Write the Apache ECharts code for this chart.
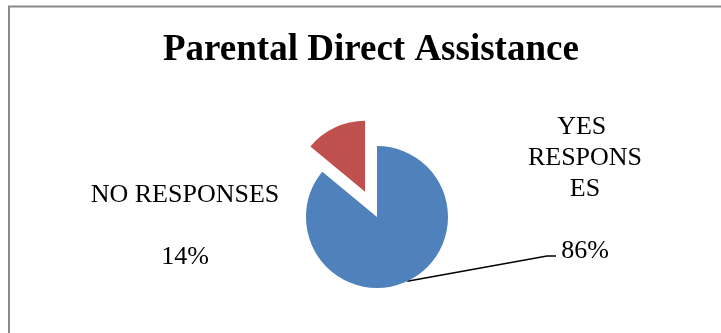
<!DOCTYPE html>
<html>
<head>
<meta charset="utf-8">
<script src="https://cdn.jsdelivr.net/npm/echarts@6/dist/echarts.min.js"></script>
<style>
  html, body { margin: 0; padding: 0; background: #fff; }
  #chart { width: 721px; height: 333px; }
</style>
</head>
<body>
<div id="chart"></div>
<script>
// Survey answers: share of parents giving direct assistance
const chartTitle = 'Parental Direct Assistance';
const categories = ['YES RESPONSES', 'NO RESPONSES'];
const values = [86, 14];
const sliceColors = ['#4F81BD', '#C0504D'];

// Where each label block is centred, how wide it may grow before wrapping,
// and whether it gets a leader line back to its slice.
const labelPlacement = [
  { x: 585, y: 189, width: 120, leader: true },
  { x: 185, y: 226, width: 230, leader: false }
];

const serif = "'Liberation Serif', 'Times New Roman', serif";
const pieCenter = [377, 217];
const pieRadius = 71;
const startAngle = 90;
const explodeDistance = 28;   // how far the exploded slice is pulled out
const explodedIndex = 1;

// centre of the exploded slice: shifted outwards along its mid-angle
const total = values.reduce(function (a, b) { return a + b; }, 0);
let before = 0;
for (let i = 0; i < explodedIndex; i++) before += values[i];
const midFraction = (before + values[explodedIndex] / 2) / total;
const midAngle = (startAngle - 360 * midFraction) * Math.PI / 180;
const explodedCenter = [
  pieCenter[0] + explodeDistance * Math.cos(midAngle),
  pieCenter[1] - explodeDistance * Math.sin(midAngle)
];

function layoutLabel(p) {
  const place = labelPlacement[p.dataIndex];
  const out = { x: place.x, y: place.y, align: 'center', verticalAlign: 'middle' };
  if (place.leader && p.labelLinePoints) {
    out.labelLinePoints = [
      p.labelLinePoints[0],
      [place.x - 38, place.y + 67],
      [place.x - 29, place.y + 67]
    ];
  }
  return out;
}

// one ring per slice; the other slices in that ring are left invisible
function sliceSeries(visibleIndex, center) {
  return {
    type: 'pie',
    center: center,
    radius: pieRadius,
    startAngle: startAngle,
    clockwise: true,
    silent: true,
    emphasis: { disabled: true },
    label: {
      show: true,
      position: 'outside',
      fontFamily: serif,
      fontSize: 26,
      lineHeight: 31,
      color: '#000',
      overflow: 'break',
      formatter: '{b}\n\n{d}%'
    },
    labelLine: {
      show: true,
      lineStyle: { color: '#000', width: 1.5 }
    },
    labelLayout: layoutLabel,
    data: categories.map(function (name, i) {
      const place = labelPlacement[i];
      const visible = i === visibleIndex;
      return {
        name: name,
        value: values[i],
        itemStyle: { color: visible ? sliceColors[i] : 'rgba(0,0,0,0)' },
        label: { show: visible, width: place.width },
        labelLine: { show: visible && place.leader }
      };
    })
  };
}

const chart = echarts.init(document.getElementById('chart'), null, { renderer: 'canvas' });

chart.setOption({
  animation: false,
  backgroundColor: '#ffffff',
  title: {
    text: chartTitle,
    left: 163,
    top: 32,
    padding: 0,
    textStyle: { fontFamily: serif, fontSize: 37, fontWeight: 'bold', color: '#000' }
  },
  // outer frame of the chart area
  graphic: [{
    type: 'rect',
    silent: true,
    shape: { x: 9, y: 6.5, width: 760, height: 360 },
    style: { fill: 'none', stroke: '#8a8a8a', lineWidth: 2 }
  }],
  series: [
    sliceSeries(0, pieCenter),
    sliceSeries(1, explodedCenter)
  ]
});
</script>
</body>
</html>
